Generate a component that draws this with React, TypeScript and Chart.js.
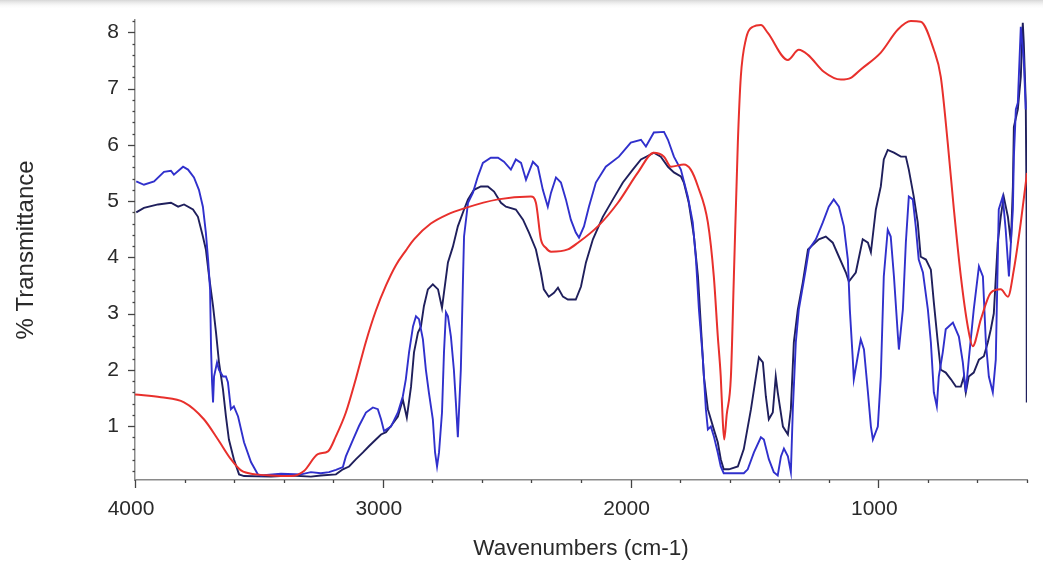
import React, { useEffect, useRef } from "react";
import { Chart, registerables } from "chart.js";

Chart.register(...registerables);

// Axis ticks
const xMajorTicks = [4000, 3000, 2000, 1000];
const xMinorStep = 200;
const yMajorTicks = [1, 2, 3, 4, 5, 6, 7, 8];
const yMinorStep = 0.2;

// Red spectrum
const redWn = [4000,3895,3802,3722,3665,3613,3572,3512,3451,3371,
  3318,3262,3221,3189,3149,3108,3068,3028,2987,2947,
  2907,2874,2806,2740,2672,2535,2402,2382,2362,2342,2321,2253,
  2212,2132,2051,1970,1906,1865,1837,1785,1757,1728,
  1688,1664,1648,1636,1628,1622,1612,1595,1583,1567,
  1555,1535,1506,1474,1446,1365,1321,1284,1220,1151,
  1111,1071,990,921,869,829,776,748,720,695,
  667,639,619,586,546,506,477,453,425,400];
const redT = [1.56,1.51,1.42,1.12,0.76,0.41,0.21,0.14,0.12,0.11,
  0.20,0.50,0.55,0.82,1.24,1.85,2.50,3.05,3.50,3.86,
  4.12,4.32,4.60,4.76,4.87,5.03,5.08,4.97,4.32,4.17,4.10,4.14,
  4.26,4.55,4.97,5.51,5.86,5.79,5.61,5.65,5.56,5.26,
  4.62,3.66,2.6,1.88,1.1,0.76,1.2,1.88,3.66,6.04,
  7.21,7.87,8.10,8.13,7.99,7.51,7.69,7.60,7.30,7.16,
  7.19,7.34,7.64,8.05,8.20,8.19,7.69,7.21,6.04,4.85,
  3.66,2.77,2.42,2.90,3.37,3.43,3.30,3.78,4.62,5.5];

// Blue spectrum
const blueWn = [3995,3964,3923,3883,3855,3843,3806,3786,3762,3742,
  3726,3714,3705,3697,3693,3689,3685,3681,3669,3661,
  3645,3633,3625,3613,3601,3584,3560,3532,3504,3492,
  3411,3330,3290,3250,3217,3189,3161,3149,3120,3096,
  3068,3040,3020,3007,2995,2967,2939,2919,2907,2894,
  2878,2866,2854,2838,2826,2814,2798,2789,2781,2773,
  2761,2753,2745,2737,2725,2713,2705,2697,2685,2677,
  2672,2656,2636,2616,2596,2564,2535,2511,2483,2463,
  2442,2422,2394,2374,2354,2334,2321,2301,2281,2261,
  2241,2221,2208,2188,2168,2140,2100,2047,1999,1958,
  1938,1906,1865,1849,1825,1797,1769,1749,1736,1724,
  1708,1696,1688,1676,1664,1648,1636,1624,1543,1527,
  1502,1474,1462,1442,1422,1406,1393,1381,1365,1353,
  1345,1333,1321,1293,1280,1252,1224,1200,1180,1159,
  1139,1123,1115,1103,1099,1083,1071,1058,1042,1030,
  1022,1002,990,978,962,950,937,921,917,901,
  889,877,861,849,837,820,800,788,776,764,
  756,740,728,699,675,659,647,635,615,594,
  578,566,554,538,526,514,498,486,473,457,
  453,445,437,433,425,413,405];
const blueT = [5.35,5.29,5.35,5.52,5.54,5.47,5.61,5.56,5.42,5.20,
  4.90,4.44,3.96,3.43,2.36,1.78,1.42,1.88,2.13,2.00,
  1.88,1.88,1.78,1.30,1.35,1.17,0.71,0.36,0.14,0.12,
  0.15,0.14,0.18,0.16,0.18,0.22,0.27,0.46,0.76,1.00,
  1.24,1.33,1.30,1.12,0.91,0.99,1.24,1.53,1.83,2.31,
  2.77,2.95,2.90,2.54,2.00,1.60,1.12,0.53,0.28,0.53,
  1.24,2.31,3.02,2.95,2.59,2.00,1.42,0.80,2.00,3.48,
  4.37,4.97,5.15,5.44,5.68,5.77,5.77,5.70,5.56,5.74,
  5.68,5.38,5.70,5.61,5.20,4.90,5.15,5.42,5.33,5.03,
  4.67,4.44,4.35,4.55,4.90,5.33,5.61,5.79,6.04,6.09,
  5.97,6.22,6.23,6.09,5.79,5.56,5.08,4.62,3.96,3.07,
  2.18,1.30,0.94,0.99,0.82,0.53,0.28,0.16,0.16,0.23,
  0.53,0.80,0.76,0.41,0.18,0.12,0.46,0.60,0.46,0.18,
  1.30,2.49,3.07,3.78,4.14,4.32,4.62,4.90,5.03,4.90,
  4.55,3.96,3.07,2.18,1.83,2.24,2.54,2.36,1.60,0.99,
  0.76,0.99,1.88,3.66,4.49,4.37,3.66,2.60,2.36,3.07,
  4.26,5.08,5.03,4.55,3.96,3.73,3.07,2.49,1.60,1.35,
  1.88,2.31,2.72,2.84,2.59,2.13,1.60,2.18,3.07,3.84,
  3.66,2.49,1.88,1.60,2.18,4.85,5.08,4.49,3.66,4.85,
  5.79,6.63,6.75,7.21,8.10,7.51,6.63];

// Navy spectrum
const navyWn = [3995,3964,3907,3855,3826,3802,3766,3746,3726,3714,
  3701,3685,3673,3661,3645,3633,3621,3601,3580,3560,
  3451,3371,3290,3250,3189,3161,3136,3108,3080,3056,
  3028,3007,2987,2967,2939,2919,2903,2886,2874,2858,
  2846,2834,2818,2798,2777,2761,2753,2737,2717,2697,
  2672,2656,2632,2604,2576,2551,2523,2503,2463,2434,
  2410,2382,2362,2350,2330,2309,2293,2273,2253,2221,
  2200,2180,2152,2112,2071,2031,1991,1958,1906,1878,
  1849,1825,1797,1785,1765,1744,1728,1716,1704,1688,
  1664,1648,1636,1624,1603,1567,1543,1514,1494,1482,
  1466,1454,1442,1426,1414,1406,1385,1365,1353,1341,
  1325,1305,1284,1272,1240,1212,1184,1159,1131,1119,
  1091,1063,1042,1030,1010,990,978,962,937,909,
  889,877,857,841,829,808,788,776,760,748,
  728,707,687,667,655,647,635,615,594,574,
  558,546,534,518,506,494,477,465,457,453,
  437,425,417,413,405,402,401];
const navyT = [4.80,4.88,4.94,4.97,4.90,4.94,4.85,4.72,4.37,4.14,
  3.66,3.13,2.66,2.13,1.65,1.17,0.76,0.41,0.14,0.11,
  0.10,0.12,0.10,0.12,0.14,0.23,0.28,0.41,0.53,0.64,
  0.76,0.85,0.89,1.00,1.17,1.47,1.15,1.70,2.31,2.66,
  2.77,3.13,3.43,3.52,3.43,3.10,3.37,3.91,4.19,4.55,
  4.85,5.03,5.20,5.26,5.26,5.17,4.97,4.90,4.85,4.67,
  4.44,4.14,3.73,3.43,3.30,3.37,3.46,3.30,3.25,3.25,
  3.48,3.91,4.32,4.72,5.03,5.33,5.56,5.74,5.86,5.79,
  5.61,5.51,5.44,5.33,4.97,4.37,3.66,2.77,1.88,1.30,
  0.94,0.71,0.41,0.23,0.23,0.28,0.59,1.30,1.88,2.22,
  2.13,1.53,1.12,1.24,1.88,1.60,0.99,0.85,1.30,2.49,
  3.07,3.55,4.14,4.19,4.32,4.37,4.26,4.01,3.73,3.57,
  3.73,4.32,4.26,4.09,4.85,5.26,5.74,5.91,5.86,5.79,
  5.79,5.56,5.08,4.62,4.01,3.96,3.78,3.20,2.49,2.00,
  1.95,1.83,1.70,1.70,1.88,1.60,1.88,1.95,2.18,2.24,
  2.49,2.72,3.00,4.26,4.72,5.08,4.72,4.26,5.26,6.32,
  6.63,7.21,8.17,7.82,6.75,5.00,1.42];

const toPoints = (wn: number[], t: number[]) => wn.map((w, i) => ({ x: w, y: t[i] }));

const FONT = "'Liberation Sans', Arial, Helvetica, sans-serif";

const decorPlugin = {
  id: "irDecor",
  beforeDraw(chart: any) {
    const { ctx, width } = chart;
    ctx.save();
    const g = ctx.createLinearGradient(0, 0, 0, 9);
    g.addColorStop(0, "#d6d6d6");
    g.addColorStop(1, "rgba(255,255,255,0)");
    ctx.fillStyle = g;
    ctx.fillRect(0, 0, width, 9);
    ctx.restore();
  },
  afterDraw(chart: any) {
    const { ctx, scales } = chart;
    const x = scales.x;
    const y = scales.y;
    ctx.save();
    ctx.strokeStyle = "#444";
    ctx.lineWidth = 1.3;
    // y ticks
    const left = y.right;
    const nY = Math.round(8.2 / yMinorStep);
    for (let k = 1; k <= nY; k++) {
      const v = k * yMinorStep;
      const py = Math.round(y.getPixelForValue(v)) + 0.5;
      const major = yMajorTicks.some((m) => Math.abs(m - v) < 1e-6);
      ctx.beginPath();
      ctx.moveTo(left - (major ? 7 : 2.5), py);
      ctx.lineTo(left, py);
      ctx.stroke();
    }
    // x ticks
    const bottom = x.top;
    for (let w = 4000; w >= 400; w -= xMinorStep) {
      const px = Math.round(x.getPixelForValue(w)) + 0.5;
      const major = xMajorTicks.includes(w);
      ctx.beginPath();
      ctx.moveTo(px, bottom);
      ctx.lineTo(px, bottom + (major ? 8 : 3));
      ctx.stroke();
    }
    ctx.restore();
  },
};

export default function App() {
  const canvasRef = useRef<HTMLCanvasElement | null>(null);

  useEffect(() => {
    const canvas = canvasRef.current;
    if (!canvas) return;
    const chart = new Chart(canvas, {
      type: "line",
      data: {
        datasets: [
          {
            label: "red",
            data: toPoints(redWn, redT),
            borderColor: "#e8302c",
            borderWidth: 2,
            pointRadius: 0,
            cubicInterpolationMode: "monotone",
            fill: false,
          },
          {
            label: "blue",
            data: toPoints(blueWn, blueT),
            borderColor: "#3030cc",
            borderWidth: 1.9,
            pointRadius: 0,
            tension: 0,
            fill: false,
          },
          {
            label: "navy",
            data: toPoints(navyWn, navyT),
            borderColor: "#1f1f5c",
            borderWidth: 1.9,
            pointRadius: 0,
            tension: 0,
            fill: false,
          },
        ],
      },
      options: {
        animation: false,
        responsive: false,
        maintainAspectRatio: false,
        parsing: false as any,
        normalized: true,
        layout: { padding: { top: 20, right: 16, left: 0, bottom: 0 } },
        plugins: {
          legend: { display: false },
          tooltip: { enabled: false },
          title: { display: false },
        },
        scales: {
          x: {
            type: "linear",
            reverse: true,
            min: 400,
            max: 4000,
            afterBuildTicks: (s: any) => {
              s.ticks = xMajorTicks.map((v) => ({ value: v }));
            },
            afterFit: (s: any) => {
              s.height = 81;
            },
            grid: { display: false, drawTicks: true, tickLength: 8 },
            border: { display: true, color: "#8a8a8a", width: 1.5 },
            ticks: {
              font: { family: FONT, size: 21 },
              color: "#2a2a2a",
              padding: 9,
              labelOffset: -4,
              maxRotation: 0,
              autoSkip: false,
              callback: (v: any) => String(v),
            },
            title: {
              display: true,
              text: "Wavenumbers (cm-1)",
              font: { family: FONT, size: 22.5 },
              color: "#2a2a2a",
              padding: { top: 0, bottom: -1 },
            },
          },
          y: {
            type: "linear",
            min: 0.04,
            max: 8.22,
            afterBuildTicks: (s: any) => {
              s.ticks = yMajorTicks.map((v) => ({ value: v }));
            },
            afterFit: (s: any) => {
              s.width = 135;
            },
            grid: { display: false, drawTicks: true, tickLength: 16 },
            border: { display: true, color: "#8a8a8a", width: 1.5 },
            ticks: {
              font: { family: FONT, size: 21 },
              color: "#2a2a2a",
              padding: 0,
              callback: (v: any) => String(v),
            },
            title: {
              display: true,
              text: "% Transmittance",
              font: { family: FONT, size: 24 },
              color: "#2a2a2a",
              padding: { top: 12, bottom: 0 },
            },
          },
        },
      },
      plugins: [decorPlugin],
    });
    return () => chart.destroy();
  }, []);

  return (
    <div
      style={{
        position: "fixed",
        left: 0,
        top: 0,
        width: 1043,
        height: 561,
        background: "#ffffff",
      }}
    >
      <canvas ref={canvasRef} width={1043} height={561} style={{ display: "block", width: 1043, height: 561 }} />
    </div>
  );
}
